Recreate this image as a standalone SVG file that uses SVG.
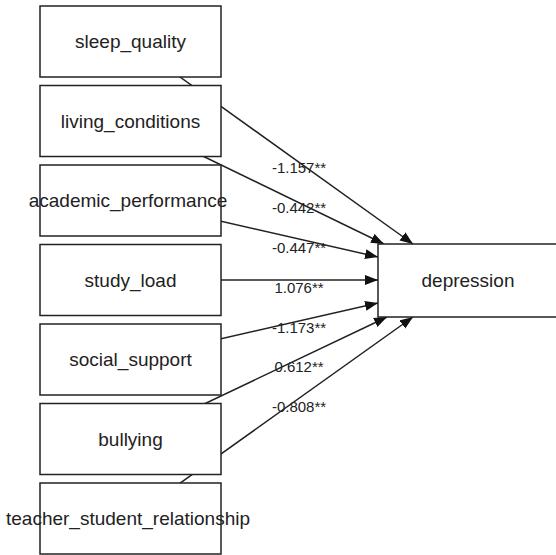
<svg xmlns="http://www.w3.org/2000/svg" width="556" height="555" viewBox="0 0 556 555">
<style>
.box{fill:#fff;stroke:#222;stroke-width:1.5}
.nt{font-family:"Liberation Sans",Arial,sans-serif;font-size:19px;fill:#222;text-anchor:middle}
.lt{font-family:"Liberation Sans",Arial,sans-serif;font-size:15px;fill:#222;text-anchor:middle}
.edge{stroke:#222;stroke-width:1.5;fill:none;marker-end:url(#arr)}
</style>
<defs>
<marker id="arr" markerUnits="userSpaceOnUse" markerWidth="14" markerHeight="12" refX="13" refY="5" orient="auto">
<path d="M0,0 L13,5 L0,10 z" fill="#111"/>
</marker>
</defs>
<rect width="556" height="555" fill="#fff"/>
<g id="connectors">
<line class="edge" x1="130.5" y1="41.5" x2="413" y2="244"/>
<line class="edge" x1="130.5" y1="121" x2="384" y2="244"/>
<line class="edge" x1="130.5" y1="200.5" x2="378" y2="257"/>
<line class="edge" x1="130.5" y1="280" x2="378" y2="280"/>
<line class="edge" x1="130.5" y1="359.5" x2="378" y2="303"/>
<line class="edge" x1="130.5" y1="439" x2="387" y2="317"/>
<line class="edge" x1="130.5" y1="518.5" x2="413" y2="317"/>
</g>
<g id="sleep_quality"><rect class="box" x="40" y="6" width="181" height="71"/><text class="nt" x="130.5" y="48">sleep_quality</text></g>
<g id="living_conditions"><rect class="box" x="40" y="85.5" width="181" height="71"/><text class="nt" x="130.5" y="127.5">living_conditions</text></g>
<g id="academic_performance"><rect class="box" x="40" y="165" width="181" height="71"/><text class="nt" x="128" y="207">academic_performance</text></g>
<g id="study_load"><rect class="box" x="40" y="244.5" width="181" height="71"/><text class="nt" x="130.5" y="286.5">study_load</text></g>
<g id="social_support"><rect class="box" x="40" y="324" width="181" height="71"/><text class="nt" x="130.5" y="366">social_support</text></g>
<g id="bullying"><rect class="box" x="40" y="403.5" width="181" height="71"/><text class="nt" x="130.5" y="445.5">bullying</text></g>
<g id="teacher_student_relationship"><rect class="box" x="40" y="483" width="181" height="71"/><text class="nt" x="128" y="525">teacher_student_relationship</text></g>
<g id="depression"><rect class="box" x="378" y="244" width="180" height="73"/><text class="nt" x="468" y="287">depression</text></g>
<g id="labels">
<text class="lt" x="299" y="173">-1.157**</text>
<text class="lt" x="299" y="213">-0.442**</text>
<text class="lt" x="299" y="253">-0.447**</text>
<text class="lt" x="299" y="293">1.076**</text>
<text class="lt" x="299" y="333">-1.173**</text>
<text class="lt" x="299" y="372">0.612**</text>
<text class="lt" x="299" y="412">-0.808**</text>
</g>
</svg>
